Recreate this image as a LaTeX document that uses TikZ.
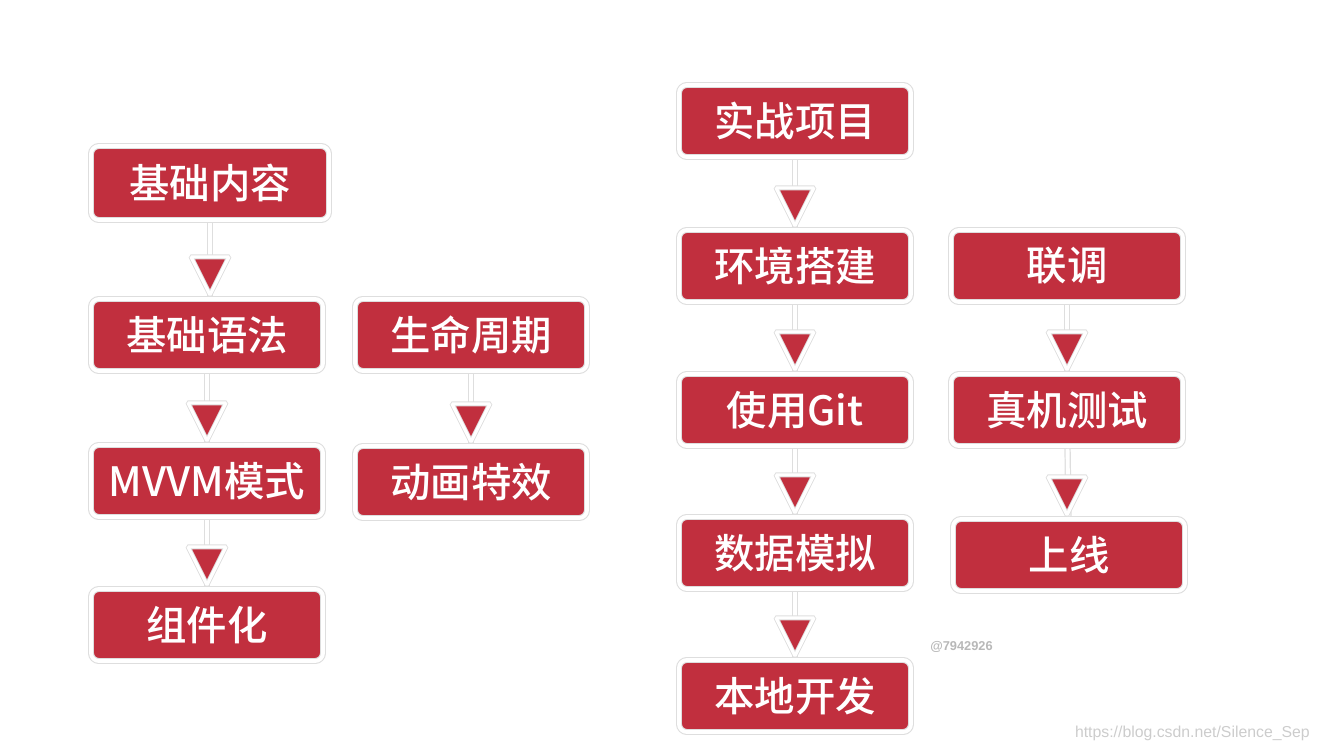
\documentclass[tikz,border=0pt]{standalone}
\usepackage{fontspec}
\newfontfamily\cjk{Noto Sans CJK SC Medium}
\setsansfont{Liberation Sans}
\usetikzlibrary{shapes.geometric}
\definecolor{boxred}{RGB}{193,47,62}
\definecolor{rimgray}{RGB}{222,222,222}

\tikzset{
  topic/.style={draw=rimgray, double=white, double distance=2.2pt, line width=0.6pt,
    fill=boxred, rounded corners=4.5pt, minimum width=4.64cm, minimum height=1.44cm,
    inner sep=0pt, outer sep=1.7pt, text=white,
    font=\cjk\fontsize{23}{26}\selectfont},
  stem/.style={preaction={draw=rimgray, line width=3.6pt}, draw=white, line width=2.2pt},
  tip/.style={isosceles triangle, shape border rotate=-90, isosceles triangle stretches,
    minimum width=0.76cm, minimum height=0.76cm, inner sep=0pt, anchor=apex,
    fill=boxred, draw=rimgray, double=white, double distance=1.8pt, line width=0.5pt,
    rounded corners=0.6pt},
}

\begin{document}
\begin{tikzpicture}
  \useasboundingbox (0,0) rectangle (26.52,-15.04);

  % Basics
  \node[topic, minimum width=4.76cm, minimum height=1.48cm] (jcnr) at (4.20,-3.66) {基础内容};
  \node[topic] (jcyf) at (4.14,-6.70) {基础语法};
  \node[topic] (mvvm) at (4.14,-9.62) {MVVM模式};
  \node[topic] (zjh) at (4.14,-12.50) {组件化};

  \node[topic] (smzq) at (9.42,-6.70) {生命周期};
  \node[topic] (dhtx) at (9.42,-9.64) {动画特效};

  % Project
  \node[topic] (szxm) at (15.90,-2.42) {实战项目};
  \node[topic] (hjdj) at (15.90,-5.32) {环境搭建};
  \node[topic] (sygit) at (15.90,-8.20) {使用Git};
  \node[topic] (sjmn) at (15.90,-11.06) {数据模拟};
  \node[topic] (bdkf) at (15.90,-13.92) {本地开发};

  \node[topic] (lt) at (21.34,-5.32) {联调};
  \node[topic] (zjcs) at (21.34,-8.20) {真机测试};
  \node[topic] (sx) at (21.38,-11.10) {上线};

  % Stems
  \draw[stem] (jcnr) -- (jcnr |- jcyf.north);
  \draw[stem] (jcyf) -- (mvvm);
  \draw[stem] (mvvm) -- (zjh);
  \draw[stem] (smzq) -- (dhtx);
  \draw[stem] (szxm) -- (hjdj);
  \draw[stem] (hjdj) -- (sygit);
  \draw[stem] (sygit) -- (sjmn);
  \draw[stem] (sjmn) -- (bdkf);
  \draw[stem] (lt) -- (zjcs);
  \draw[stem] (zjcs) -- (sx);

  % Arrow heads
  \node[tip] (t1) at (jcnr.south |- jcyf.north) {};
  \node[tip] (t2) at (mvvm.north) {};
  \node[tip] (t3) at (zjh.north) {};
  \node[tip] (t4) at (dhtx.north) {};
  \node[tip] (t5) at (hjdj.north) {};
  \node[tip] (t6) at (sygit.north) {};
  \node[tip] (t7) at (sjmn.north) {};
  \node[tip] (t8) at (bdkf.north) {};
  \node[tip] (t9) at (zjcs.north) {};
  \node[tip] (t10) at (sx.north -| zjcs.south) {};

  % Watermarks
  \node[font=\sffamily\bfseries\fontsize{7.3}{8}\selectfont, text=black!28] (mark) at (19.23,-12.94) {@7942926};
  \node[font=\sffamily\fontsize{9}{10}\selectfont, text=black!20, anchor=east] (url) at (26.32,-14.66) {https://blog.csdn.net/Silence\_Sep};
\end{tikzpicture}
\end{document}
